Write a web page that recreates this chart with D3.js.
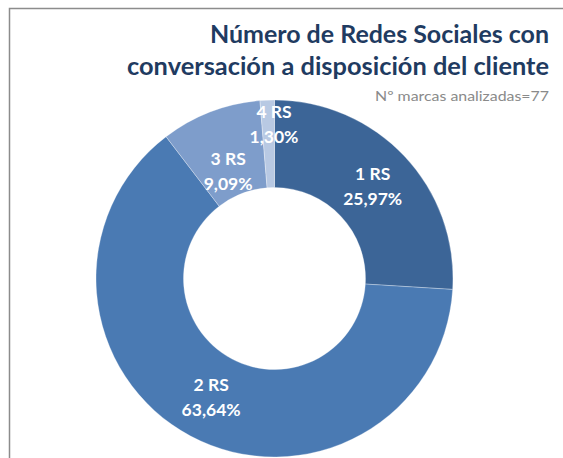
<!DOCTYPE html>
<html>
<head>
<meta charset="utf-8">
<script src="https://cdn.jsdelivr.net/npm/d3@7"></script>
<style>
  body { margin: 0; background: #fff; }
  svg { display: block; }
</style>
</head>
<body>
<div id="chart"></div>
<script>
// data: number of brands (of 77) by social networks with conversation
var categories = ["1 RS", "2 RS", "3 RS", "4 RS"];
var counts = [20, 49, 7, 1];
var pctLabels = ["25,97%", "63,64%", "9,09%", "1,30%"];
var colors = ["#3c6597", "#4a7ab3", "#7e9dcb", "#b8c9e3"];

var width = 563, height = 458;
var cx = 274.5, cy = 278.5;
var outerR = 178.5, innerR = 91;

var svg = d3.select("#chart")
    .append("svg")
    .attr("width", width)
    .attr("height", height);

// chart area frame (only top & left visible in the crop)
svg.append("rect")
    .attr("x", 9.5)
    .attr("y", 8.5)
    .attr("width", width + 20)
    .attr("height", height + 20)
    .attr("fill", "none")
    .attr("stroke", "#8c8c8c")
    .attr("stroke-width", 1.5);

// title
var title = svg.append("g")
    .attr("font-family", "Lato, 'Open Sans', sans-serif")
    .attr("font-weight", "bold")
    .attr("fill", "#1f3b61")
    .attr("text-anchor", "end");

title.append("text")
    .attr("x", 549)
    .attr("y", 43)
    .attr("font-size", 24)
    .attr("textLength", 339)
    .attr("lengthAdjust", "spacingAndGlyphs")
    .text("Número de Redes Sociales con");

title.append("text")
    .attr("x", 549)
    .attr("y", 75)
    .attr("font-size", 24)
    .attr("textLength", 422)
    .attr("lengthAdjust", "spacingAndGlyphs")
    .text("conversación a disposición del cliente");

svg.append("text")
    .attr("x", 549)
    .attr("y", 101)
    .attr("text-anchor", "end")
    .attr("font-family", "Lato, 'Open Sans', sans-serif")
    .attr("font-size", 14)
    .attr("fill", "#8a8a8a")
    .attr("textLength", 174)
    .attr("lengthAdjust", "spacingAndGlyphs")
    .text("Nº marcas analizadas=77");

var rows = categories.map(function(c, i) {
    return { cat: c, value: counts[i], pct: pctLabels[i], color: colors[i] };
});

var pie = d3.pie()
    .sort(null)
    .value(function(d) { return d.value; });

var arc = d3.arc()
    .innerRadius(innerR)
    .outerRadius(outerR);

var g = svg.append("g")
    .attr("transform", `translate(${cx},${cy})`);

var arcs = pie(rows);

g.selectAll("path")
    .data(arcs)
    .enter()
    .append("path")
    .attr("d", arc)
    .attr("fill", function(d) { return d.data.color; })
    .attr("stroke", "#ffffff")
    .attr("stroke-opacity", 0.5)
    .attr("stroke-width", 0.6);

// small slices: labels pushed apart like Excel does
var nudge = { "3 RS": [2, 19], "4 RS": [5, -19] };

var labels = g.selectAll("g.lbl")
    .data(arcs)
    .enter()
    .append("g")
    .attr("class", "lbl")
    .attr("transform", function(d) {
        var p = arc.centroid(d);
        var n = nudge[d.data.cat] || [0, 0];
        return `translate(${p[0] + n[0]},${p[1] + n[1]})`;
    })
    .attr("font-family", "Lato, 'Open Sans', sans-serif")
    .attr("font-weight", "bold")
    .attr("font-size", 17.5)
    .attr("fill", "#ffffff")
    .attr("text-anchor", "middle");

labels.append("text")
    .attr("y", -6.5)
    .text(function(d) { return d.data.cat; });

labels.append("text")
    .attr("y", 18.5)
    .text(function(d) { return d.data.pct; });
</script>
</body>
</html>
